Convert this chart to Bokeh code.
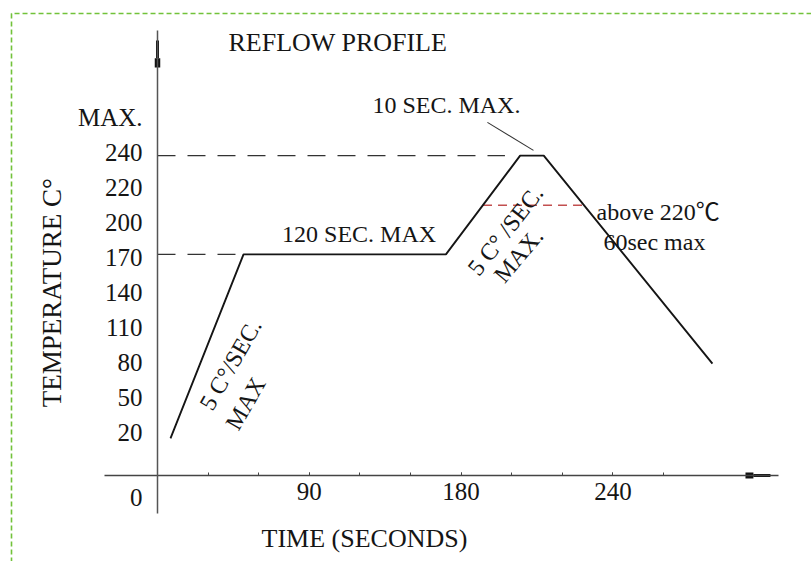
from bokeh.plotting import figure
from bokeh.models import Range1d, FixedTicker, Label
from bokeh.embed import file_html
from bokeh.resources import INLINE

# ---- axis ticks / labels (schematic, evenly spaced levels) ----
y_tick_pos = [-0.86, 1, 2, 3, 4, 5, 6, 7, 8, 9, 10]
y_tick_labels = ["0", "20", "50", "80", "110", "140", "170", "200", "220", "240", "MAX."]
x_minor_ticks = [30, 60, 90, 120, 150, 180, 210, 240, 270, 300]
x_label_pos = [90, 180, 270]
x_tick_labels = ["90", "180", "240"]

# ---- reflow profile (time in s on tick scale, level on temperature scale) ----
profile_time = [7.7, 51, 171, 215, 229, 329]
profile_level = [0.83, 6.09, 6.09, 8.91, 8.91, 2.97]

# guide lines
peak_guide_time = [0, 206]
peak_guide_level = [8.91, 8.91]
soak_guide_time = [0, 51]
soak_guide_level = [6.09, 6.09]
liquidus_time = [193, 254]
liquidus_level = [7.49, 7.49]
leader_time = [195.6, 222.9]
leader_level = [9.86, 9.06]

FONT = "Liberation Serif"
FONT_C = "'Liberation Serif', 'Noto Sans CJK SC'"
INK = "#151515"

p = figure(width=811, height=561,
           x_range=Range1d(-93.08, 387.74), y_range=Range1d(-2.686, 13.343),
           output_backend="svg", toolbar_location=None, min_border=0)
p.outline_line_color = None
p.grid.visible = False
p.background_fill_color = "white"
p.border_fill_color = "white"

# y axis
ya = p.yaxis[0]
ya.fixed_location = 0
ya.bounds = (-1.314, 12.486)
ya.ticker = FixedTicker(ticks=y_tick_pos)
ya.major_label_overrides = {pos: lab for pos, lab in zip(y_tick_pos, y_tick_labels)}
ya.major_tick_in = 0
ya.major_tick_out = 0
ya.minor_tick_in = 0
ya.minor_tick_out = 0
ya.major_label_standoff = 15
ya.major_label_text_font = FONT
ya.major_label_text_font_size = "25px"
ya.major_label_text_color = INK
ya.axis_line_color = "#555555"
ya.axis_line_width = 1.5

# x axis
xa = p.xaxis[0]
xa.fixed_location = -0.2286
xa.bounds = (-31.4, 368.2)
xa.ticker = FixedTicker(ticks=x_label_pos, minor_ticks=x_minor_ticks)
xa.major_label_overrides = {pos: lab for pos, lab in zip(x_label_pos, x_tick_labels)}
xa.major_tick_in = 3
xa.major_tick_out = 0
xa.minor_tick_in = 3
xa.minor_tick_out = 0
xa.major_tick_line_color = "#444444"
xa.minor_tick_line_color = "#444444"
xa.major_label_standoff = 8
xa.major_label_text_font = FONT
xa.major_label_text_font_size = "25px"
xa.major_label_text_color = INK
xa.axis_line_color = "#444444"
xa.axis_line_width = 1.5

# axis arrow decorations
p.line([0, 0], [12.2, 11.69], line_width=3, color="#111111")
p.line([0, 0], [11.69, 11.43], line_width=5.5, color="#111111")
p.line([348.6, 353.3], [-0.2286, -0.2286], line_width=6, color="#111111")
p.line([353.3, 363.4], [-0.2286, -0.2286], line_width=3, color="#111111")

# green dashed frame
p.line([-86.56, -86.56, 500], [-5, 12.971, 12.971], line_color="#72c23a",
       line_width=1.6, line_dash="5 3")

# guides
p.line(peak_guide_time, peak_guide_level, line_color="#333333", line_width=1.4, line_dash="18 12")
p.line(soak_guide_time, soak_guide_level, line_color="#333333", line_width=1.4, line_dash="18 12")
p.line(liquidus_time, liquidus_level, line_color="#c24f4f", line_width=1.5, line_dash="9 6")
p.line(leader_time, leader_level, line_color="#333333", line_width=1.1)

# profile
p.line(profile_time, profile_level, line_color=INK, line_width=1.9)

def lab(text, x, y, align="left", angle=0, size="24px", font=FONT):
    p.add_layout(Label(x=x, y=y, text=text, text_align=align, text_baseline="middle",
                       angle=angle, angle_units="deg", text_font=font,
                       text_font_size=size, text_color=INK))

lab("REFLOW PROFILE", 42.1, 12.14, size="26px")
lab("10 SEC. MAX.", 171.3, 10.37, align="center")
lab("120 SEC. MAX", 119.5, 6.66, align="center")
lab("above 220\u2103", 260.3, 7.29, font=FONT_C)
lab("60sec max", 264.4, 6.43)
lab("TEMPERATURE  C\u00b0", -62.3, 5.09, align="center", angle=90, size="27px")
lab("TIME (SECONDS)", 122.7, -2.03, align="center", size="26px")
lab("5 C\u00b0/SEC.", 43.3, 2.94, align="center", angle=60)
lab("MAX", 52.2, 1.83, align="center", angle=60)
lab("5 C\u00b0 /SEC.", 206.3, 6.77, align="center", angle=52)
lab("MAX.", 214.0, 6.06, align="center", angle=50)

open("out.html", "w").write(file_html(p, INLINE))
